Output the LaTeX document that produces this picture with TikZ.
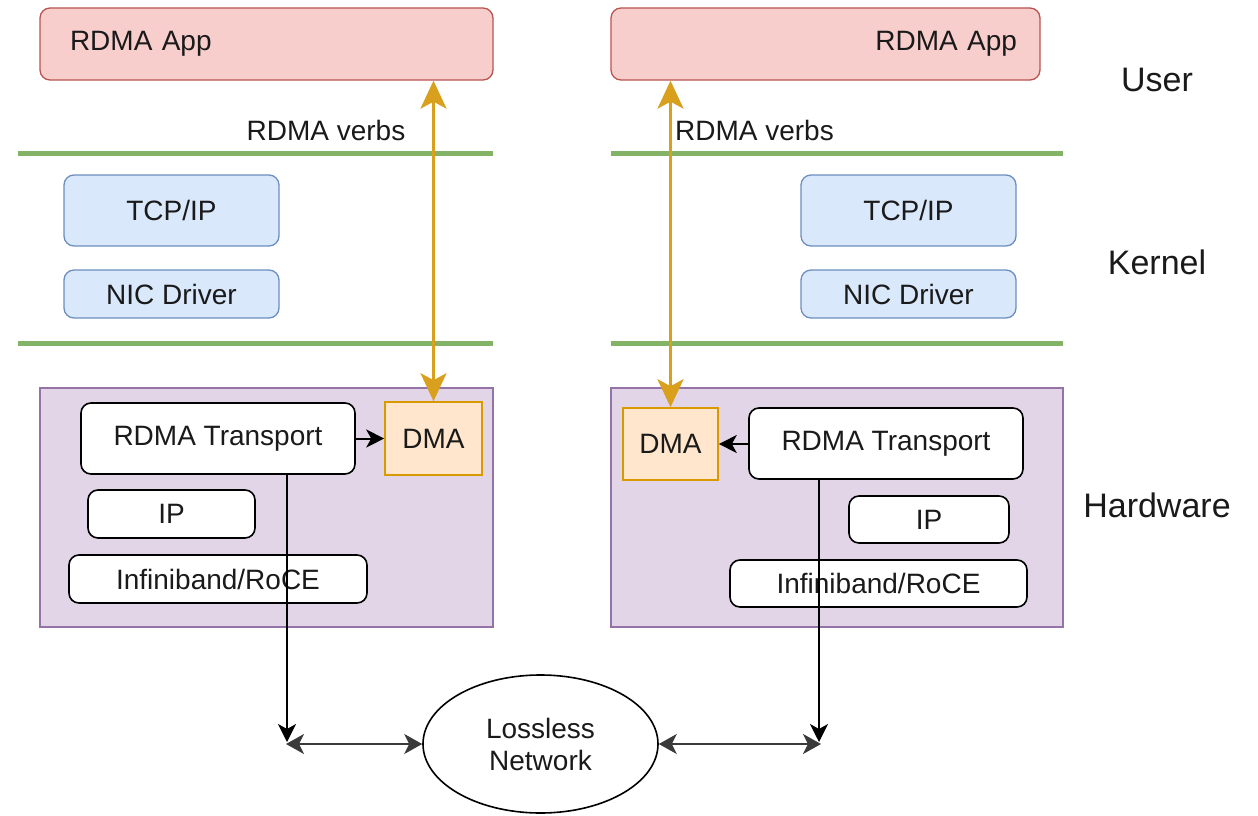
\documentclass[tikz,border=0pt]{standalone}
\usepackage{fontspec}
\setmainfont{Liberation Sans}
\usetikzlibrary{arrows.meta,shapes.geometric}

\definecolor{appfill}{HTML}{F8CECC}
\definecolor{appdraw}{HTML}{B85450}
\definecolor{kfill}{HTML}{DAE8FC}
\definecolor{kdraw}{HTML}{6C8EBF}
\definecolor{hwfill}{HTML}{E1D5E7}
\definecolor{hwdraw}{HTML}{9673A6}
\definecolor{dmafill}{HTML}{FFE6CC}
\definecolor{dmadraw}{HTML}{D79B00}
\definecolor{gold}{HTML}{D9A01E}
\definecolor{sep}{HTML}{82B366}
\definecolor{ink}{HTML}{1A1A1A}
\definecolor{netline}{HTML}{3A3A3A}

\tikzset{
  txt/.style={font=\fontsize{28}{32}\selectfont, text=ink},
  layer/.style={font=\fontsize{34}{38}\selectfont, text=ink},
  box/.style={txt, draw, rounded corners=10pt, line width=1.3pt, inner sep=0pt},
  appbox/.style={box, fill=appfill, draw=appdraw, minimum height=72pt},
  kbox/.style={box, fill=kfill, draw=kdraw},
  hwbox/.style={draw=hwdraw, fill=hwfill, line width=1.3pt, inner sep=0pt},
  wbox/.style={box, fill=white, draw=black, line width=1.6pt},
  dmabox/.style={txt, draw=dmadraw, fill=dmafill, line width=1.6pt, inner sep=0pt},
  sepline/.style={draw=sep, line width=5pt},
  goldtip/.tip={Stealth[width=26pt,length=28pt,inset=7pt]},
  blacktip/.tip={Stealth[width=18pt,length=18pt,inset=5pt]},
  greytip/.tip={Stealth[width=20pt,length=18pt,inset=5pt]},
  verbs/.style={draw=gold, line width=3pt, goldtip-goldtip},
  push/.style={draw=black, line width=2pt, -blacktip},
  drop/.style={draw=black, line width=1.6pt, -blacktip},
  link/.style={draw=netline, line width=2pt, greytip-greytip}
}

\begin{document}
\begin{tikzpicture}[x=1pt,y=-1pt]
\useasboundingbox (0,0) rectangle (1258,816);

% layer separators
\path[sepline] (18,153) -- (493,153);
\path[sepline] (611,153) -- (1063,153);
\path[sepline] (18,343) -- (493,343);
\path[sepline] (611,343) -- (1063,343);

% layer names
\node[layer] (user) at (1157,80) {User};
\node[layer] (kernel) at (1157,262) {Kernel};
\node[layer] (hw) at (1157,505) {Hardware};

% ---- left host ----
\node[appbox, text width=393pt, inner xsep=30pt, align=left] (lapp) at (266.5,44) {RDMA App};
\node[kbox, minimum width=215pt, minimum height=71pt] (ltcp) at (171.5,210.5) {TCP/IP};
\node[kbox, minimum width=215pt, minimum height=48pt] (lnic) at (171.5,294) {NIC Driver};
\node[hwbox, minimum width=453pt, minimum height=239pt] (lhw) at (266.5,507.5) {};
\node[wbox, minimum width=274pt, minimum height=71pt] (lrt) at (218,438.5) {RDMA Transport};
\node[dmabox, minimum width=97pt, minimum height=73pt] (ldma) at (433.5,438.5) {DMA};
\node[wbox, minimum width=167pt, minimum height=48pt] (lip) at (171.5,514) {IP};
\node[wbox, minimum width=298pt, minimum height=48pt] (lib) at (218,579) {Infiniband/RoCE};
\node[txt] (lverbs) at (326,130) {RDMA verbs};

% ---- right host ----
\node[appbox, text width=383pt, inner xsep=23pt, align=right] (rapp) at (825.5,44) {RDMA App};
\node[kbox, minimum width=215pt, minimum height=71pt] (rtcp) at (908.5,210.5) {TCP/IP};
\node[kbox, minimum width=215pt, minimum height=48pt] (rnic) at (908.5,294) {NIC Driver};
\node[hwbox, minimum width=452pt, minimum height=239pt] (rhw) at (837,507.5) {};
\node[dmabox, minimum width=95pt, minimum height=72pt] (rdma) at (670.5,444) {DMA};
\node[wbox, minimum width=274pt, minimum height=71pt] (rrt) at (886,443.5) {RDMA Transport};
\node[wbox, minimum width=160pt, minimum height=47pt] (rip) at (929,519.5) {IP};
\node[wbox, minimum width=297pt, minimum height=47pt] (rib) at (878.5,583.5) {Infiniband/RoCE};
\node[txt] (rverbs) at (754.5,130) {RDMA verbs};

% network
\node[ellipse, draw=black, line width=1.6pt, minimum width=235pt, minimum height=138pt,
      txt, align=center, inner sep=0pt] (net) at (540.5,744) {Lossless\\Network};

% verbs path between application and DMA engine
\draw[verbs] (lapp.south -| ldma) -- (ldma.north);
\draw[verbs] (rapp.south -| rdma) -- (rdma.north);

% transport feeds DMA
\draw[push] (lrt.east) -- (ldma.west);
\draw[push] (rrt.west |- rdma.east) -- (rdma.east);

% wire down to the network
\coordinate (lend) at (287,742);
\coordinate (rend) at (819,742);
\coordinate (lport) at (286,744);
\coordinate (rport) at (821,744);
\draw[drop] (lrt.south -| lend) -- (lend);
\draw[drop] (rrt.south -| rend) -- (rend);
\draw[link] (lport) -- (net.west);
\draw[link] (net.east) -- (rport);
\end{tikzpicture}
\end{document}
